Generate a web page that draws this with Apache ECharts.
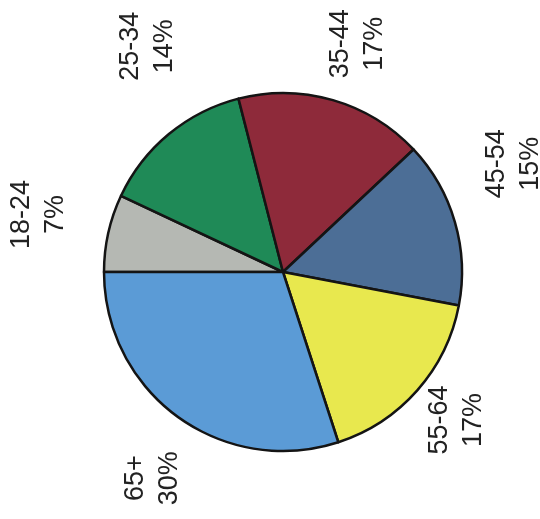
<!DOCTYPE html>
<html>
<head>
<meta charset="utf-8">
<script src="https://cdn.jsdelivr.net/npm/echarts@6/dist/echarts.min.js"></script>
<style>
html,body{margin:0;padding:0;background:#fff;}
#chart{width:540px;height:519px;}
</style>
</head>
<body>
<div id="chart"></div>
<script>
const categories = ['18-24', '25-34', '35-44', '45-54', '55-64', '65+'];
const shares = [7, 14, 17, 15, 17, 30];
const colors = ['#b5b8b3', '#1f8a57', '#8e2a3a', '#4c6e96', '#e8e84e', '#5b9bd6'];
const labelNudge = [[-5, -4], [21, -37], [6, 7], [-5, -40], [-10, -14], [14, 8]];

const center = [283, 272];
const data = categories.map((c, i) => ({ name: c, value: shares[i] }));

const chart = echarts.init(document.getElementById('chart'), null, { renderer: 'canvas' });
chart.setOption({
  backgroundColor: '#ffffff',
  animation: false,
  color: colors,
  series: [
    {
      type: 'pie',
      center: center,
      radius: 179,
      startAngle: 180,
      clockwise: true,
      avoidLabelOverlap: false,
      label: { show: false },
      labelLine: { show: false },
      itemStyle: { borderColor: '#141414', borderWidth: 2.5 },
      emphasis: { disabled: true },
      data: data
    },
    {
      type: 'pie',
      center: center,
      radius: [202, 282],
      startAngle: 180,
      clockwise: true,
      silent: true,
      avoidLabelOverlap: false,
      itemStyle: { color: 'rgba(0,0,0,0)', borderWidth: 0 },
      emphasis: { disabled: true },
      label: {
        show: true,
        position: 'inside',
        rotate: 90,
        formatter: '{b}\n{c}%',
        fontFamily: 'Liberation Sans',
        fontSize: 27,
        lineHeight: 34,
        color: '#222222',
        align: 'center'
      },
      labelLine: { show: false },
      labelLayout: function (p) {
        // offsets are applied in the label's rotated frame (rotate 90)
        const n = labelNudge[p.dataIndex];
        return { dx: -n[1], dy: n[0] };
      },
      data: data
    }
  ]
});
</script>
</body>
</html>
